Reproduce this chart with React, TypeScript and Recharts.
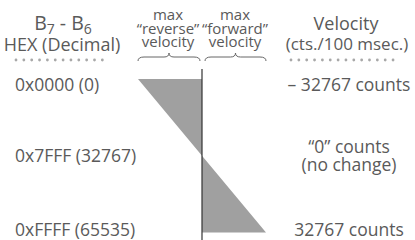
import React from 'react';
import { ComposedChart, Area, XAxis, YAxis, ReferenceLine, Customized } from 'recharts';

// ---- data ----
const hexValues = [0, 32767, 65535];
const velocityValues = [-32767, 0, 32767];
const hexLabels: string[][] = [['0x0000 (0)'], ['0x7FFF (32767)'], ['0xFFFF (65535)']];
const velocityLabels: string[][] = [['– 32767 counts'], ['“0” counts', '(no change)'], ['32767 counts']];
const velocityDomain = [-32767, 32767];
const hexDomain = [0, 65535];
const zeroLineExtent = [-4300, 70000];

const data = hexValues.map((hex, i) => ({ hex, velocity: velocityValues[i] }));

// ---- styles ----
const FONT = '"Open Sans", sans-serif';
const TEXT = '#5a5a5a';
const FS = 17.5;
const LH = 18.5;

function firstBaseline(y: number, n: number, anchor: string) {
  if (anchor === 'start') return y + 0.71 * FS;
  if (anchor === 'end') return y + 0.2 * FS - (n - 1) * LH;
  return y + 0.355 * FS - ((n - 1) * LH) / 2;
}

const makeTick = (labels: string[][], x: number, textAnchor: 'start' | 'middle' | 'end') => (props: any) => {
  const { y, payload } = props;
  const i = hexValues.indexOf(payload.value);
  if (i < 0) return null;
  const lines = labels[i];
  const anchor = i === 0 ? 'start' : i === hexValues.length - 1 ? 'end' : 'middle';
  const b = firstBaseline(y, lines.length, anchor);
  return (
    <text x={x} y={b} textAnchor={textAnchor} fill={TEXT} fontFamily={FONT} fontSize={FS}>
      {lines.map((l, k) => (
        <tspan key={k} x={x} dy={k === 0 ? 0 : LH}>
          {l}
        </tspan>
      ))}
    </text>
  );
};

const HexTick = makeTick(hexLabels, 15, 'start');
const VelTick = makeTick(velocityLabels, 349, 'middle');

function brace(x1: number, x2: number, y: number) {
  const mid = (x1 + x2) / 2;
  return `M${x1} ${y + 4} Q${x1} ${y} ${x1 + 6} ${y} L${mid - 5} ${y} Q${mid} ${y} ${mid} ${y - 4} Q${mid} ${y} ${mid + 5} ${y} L${x2 - 6} ${y} Q${x2} ${y} ${x2} ${y + 4}`;
}

const Decorations = () => {
  const small = 15;
  const hl = 13.5;
  return (
    <g fontFamily={FONT} fill={TEXT}>
      <text x={63} y={30} textAnchor="middle" fontSize={19.5}>
        B<tspan fontSize={14} dy={4}>7</tspan>
        <tspan dy={-4}> - B</tspan>
        <tspan fontSize={14} dy={4}>6</tspan>
      </text>
      <text x={62} y={51} textAnchor="middle" fontSize={18}>HEX (Decimal)</text>
      <line x1={16} x2={110} y1={60} y2={60} stroke="#a8a8a8" strokeWidth={2.8} strokeLinecap="round" strokeDasharray="0 7.85" />

      <text x={168} y={20} textAnchor="middle" fontSize={small}>
        <tspan x={168}>max</tspan>
        <tspan x={168} dy={hl}>“reverse”</tspan>
        <tspan x={168} dy={hl}>velocity</tspan>
      </text>
      <text x={235} y={20} textAnchor="middle" fontSize={small}>
        <tspan x={235}>max</tspan>
        <tspan x={235} dy={hl}>“forward”</tspan>
        <tspan x={235} dy={hl}>velocity</tspan>
      </text>
      <path d={brace(138, 200, 57)} fill="none" stroke="#666" strokeWidth={1} />
      <path d={brace(205, 266, 57)} fill="none" stroke="#666" strokeWidth={1} />

      <text x={346} y={30} textAnchor="middle" fontSize={18}>Velocity</text>
      <text x={347} y={50} textAnchor="middle" fontSize={17}>(cts./100 msec.)</text>
      <line x1={291} x2={398} y1={60} y2={60} stroke="#a8a8a8" strokeWidth={2.8} strokeLinecap="round" strokeDasharray="0 7.85" />
    </g>
  );
};

export default function App() {
  return (
    <div style={{ position: 'absolute', left: 0, top: 0, width: 415, height: 240, background: '#fff' }}>
      <ComposedChart
        width={415}
        height={240}
        data={data}
        layout="vertical"
        margin={{ top: 79, right: 0, bottom: 7.5, left: 0 }}
      >
        <XAxis type="number" dataKey="velocity" domain={velocityDomain} hide />
        <YAxis
          yAxisId="hex"
          type="number"
          dataKey="hex"
          domain={hexDomain}
          ticks={hexValues}
          width={138}
          axisLine={false}
          tickLine={false}
          tick={HexTick}
          interval={0}
        />
        <YAxis
          yAxisId="vel"
          orientation="right"
          type="number"
          dataKey="hex"
          domain={hexDomain}
          allowDataOverflow
          ticks={hexValues}
          width={149}
          axisLine={false}
          tickLine={false}
          tick={VelTick}
          interval={0}
        />
        <Area
          yAxisId="hex"
          dataKey="velocity"
          type="linear"
          fill="#a0a0a0"
          fillOpacity={1}
          stroke="none"
          isAnimationActive={false}
        />
        <ReferenceLine
          yAxisId="hex"
          segment={[{ x: 0, y: zeroLineExtent[0] }, { x: 0, y: zeroLineExtent[1] }]}
          ifOverflow="visible"
          stroke="#333"
          strokeWidth={1.2}
        />
        <Customized component={Decorations} />
      </ComposedChart>
    </div>
  );
}
